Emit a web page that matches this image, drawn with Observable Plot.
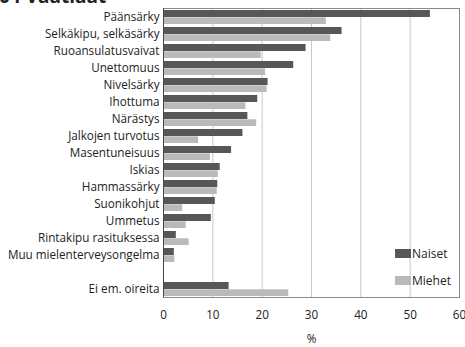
<!DOCTYPE html>
<html>
<head>
<meta charset="utf-8">
<script src="https://cdn.jsdelivr.net/npm/d3@7"></script>
<script src="https://cdn.jsdelivr.net/npm/@observablehq/plot@0.6"></script>
<style>
  html, body { margin: 0; padding: 0; background: #fff; }
  #wrap { position: relative; width: 465px; height: 347px; overflow: hidden; font-family: "Open Sans", sans-serif; }
  #title { position: absolute; left: -1px; top: -13px; font-size: 19px; line-height: 19px; font-weight: bold; color: #222; white-space: nowrap; }
  .leg { position: absolute; font-size: 12px; line-height: 12px; color: #222; }
  .sw { position: absolute; width: 16px; height: 9px; }
</style>
</head>
<body>
<div id="wrap">
  <div id="chart"></div>
  <div id="title">04 Vaatiaat</div>
</div>
<script>
const categories = ["Päänsärky", "Selkäkipu, selkäsärky", "Ruoansulatusvaivat", "Unettomuus", "Nivelsärky", "Ihottuma", "Närästys", "Jalkojen turvotus", "Masentuneisuus", "Iskias", "Hammassärky", "Suonikohjut", "Ummetus", "Rintakipu rasituksessa", "Muu mielenterveysongelma", "Ei em. oireita"];
const naiset = [54.1, 36.2, 28.9, 26.4, 21.2, 19.1, 17.1, 16.1, 13.8, 11.5, 11.0, 10.5, 9.7, 2.6, 2.2, 13.3];
const miehet = [33.0, 33.9, 19.8, 20.7, 21.0, 16.7, 18.9, 7.1, 9.5, 11.1, 10.9, 3.9, 4.6, 5.2, 2.3, 25.4];
const seriesNames = ["Naiset", "Miehet"];
const seriesColors = ["#575757", "#bababa"];
const xTicks = [0, 10, 20, 30, 40, 50, 60];
const gridTicks = [10, 20, 30, 40, 50];
const spacer = " ";
const yDomain = [...categories.slice(0, 15), spacer, categories[15]];

const rowsN = categories.map((c, i) => ({category: c, value: naiset[i]}));
const rowsM = categories.map((c, i) => ({category: c, value: miehet[i]}));

const chart = Plot.plot({
  width: 465,
  height: 347,
  marginLeft: 163,
  marginRight: 6,
  marginTop: 8,
  marginBottom: 50,
  style: {fontFamily: "Open Sans, sans-serif", fontSize: "11.7px", color: "#222", background: "#fff"},
  x: {domain: [0, 60], ticks: xTicks, label: "%", labelArrow: "none", labelAnchor: "center", labelOffset: 45, tickSize: 0, tickPadding: 13},
  y: {domain: yDomain, label: null, tickSize: 0, tickPadding: 4, paddingInner: 0.2, paddingOuter: 0.1},
  marks: [
    Plot.ruleX(gridTicks, {stroke: "#c8c8c8", strokeWidth: 1}),
    Plot.barX(rowsN, {y: "category", x: "value", fill: seriesColors[0], insetTop: 0, insetBottom: 7}),
    Plot.barX(rowsM, {y: "category", x: "value", fill: seriesColors[1], insetTop: 7.3, insetBottom: 0}),
    Plot.frame({stroke: "#8a8a8a"}),
    Plot.ruleX([0], {stroke: "#444"})
  ]
});
document.getElementById("chart").appendChild(chart);

const wrap = document.getElementById("wrap");
const legTops = [249, 276];
seriesNames.forEach((name, i) => {
  const sw = document.createElement("div");
  sw.className = "sw";
  sw.style.left = "395px";
  sw.style.top = legTops[i] + "px";
  sw.style.background = seriesColors[i];
  wrap.appendChild(sw);
  const t = document.createElement("div");
  t.className = "leg";
  t.style.left = "412px";
  t.style.top = (legTops[i] - 1) + "px";
  t.textContent = name;
  wrap.appendChild(t);
});
</script>
</body>
</html>
